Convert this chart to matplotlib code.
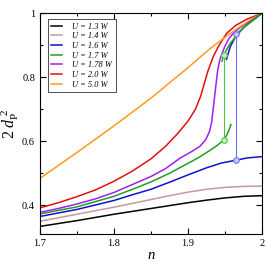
import numpy as np
import matplotlib.pyplot as plt

plt.rcParams['font.family'] = ['Liberation Serif', 'DejaVu Serif']
plt.rcParams['mathtext.fontset'] = 'custom'
plt.rcParams['mathtext.rm'] = 'Liberation Serif'
plt.rcParams['mathtext.it'] = 'Liberation Serif:italic'

# kurvor: (n, 2 d_P^2)
n_13 = [1.70, 1.75, 1.80, 1.85, 1.90, 1.925, 1.95, 1.975, 2.00]
d_13 = [0.334, 0.352, 0.372, 0.390, 0.408, 0.416, 0.423, 0.428, 0.430]

n_14 = [1.70, 1.75, 1.80, 1.85, 1.875, 1.90, 1.925, 1.95, 1.975, 2.00]
d_14 = [0.350, 0.372, 0.394, 0.418, 0.430, 0.441, 0.450, 0.456, 0.459, 0.460]

n_16 = [1.70, 1.75, 1.80, 1.825, 1.85, 1.875, 1.90, 1.925, 1.945, 1.965, 1.98, 2.00]
d_16 = [0.365, 0.387, 0.415, 0.433, 0.450, 0.472, 0.495, 0.517, 0.532, 0.541, 0.548, 0.552]
n_16_up = [1.952, 1.957, 1.966, 1.98, 2.00]
d_16_up = [0.856, 0.895, 0.935, 0.965, 1.00]

n_17 = [1.70, 1.75, 1.80, 1.825, 1.85, 1.875, 1.90, 1.915, 1.93, 1.94, 1.948, 1.952, 1.955, 1.958]
d_17 = [0.373, 0.395, 0.428, 0.450, 0.473, 0.500, 0.531, 0.550, 0.572, 0.588, 0.604, 0.618, 0.632, 0.652]
n_17_up = [1.946, 1.948, 1.957, 1.975, 2.00]
d_17_up = [0.850, 0.869, 0.906, 0.955, 1.00]

n_178 = [1.70, 1.725, 1.75, 1.775, 1.80, 1.825, 1.85, 1.87, 1.889, 1.905, 1.916, 1.924, 1.929,
         1.932, 1.934, 1.936, 1.938, 1.940, 1.943, 1.9495, 1.955, 1.961, 1.97, 1.985, 2.00]
d_178 = [0.378, 0.390, 0.404, 0.420, 0.440, 0.465, 0.490, 0.515, 0.547, 0.568, 0.584, 0.605, 0.630,
         0.660, 0.700, 0.740, 0.780, 0.820, 0.855, 0.895, 0.920, 0.937, 0.955, 0.978, 1.00]

n_20 = [1.70, 1.725, 1.75, 1.775, 1.80, 1.825, 1.85, 1.87, 1.886, 1.90, 1.91, 1.917, 1.922,
        1.927, 1.934, 1.942, 1.952, 1.965, 1.98, 2.00]
d_20 = [0.392, 0.408, 0.427, 0.448, 0.475, 0.507, 0.545, 0.585, 0.624, 0.663, 0.700, 0.740, 0.780,
        0.820, 0.864, 0.900, 0.937, 0.963, 0.982, 1.00]

n_50 = [1.70, 1.75, 1.80, 1.85, 1.90, 1.93, 1.95, 1.97, 1.985, 2.00]
d_50 = [0.484, 0.565, 0.648, 0.735, 0.830, 0.890, 0.925, 0.958, 0.980, 1.00]

# hopp (n, nedre, övre)
hopp_16 = (1.965, 0.541, 0.935)
hopp_17 = (1.948, 0.604, 0.869)

fig = plt.figure(figsize=(2.66, 2.66), dpi=100)
ax = fig.add_axes([0.150, 0.120, 0.835, 0.830])

lw = 1.1
ax.plot(n_13, d_13, color='black', lw=lw, label='U = 1.3 W')
ax.plot(n_14, d_14, color='#c49a9a', lw=lw, label='U = 1.4 W')
ax.plot(n_16, d_16, color='#1010d0', lw=lw, label='U = 1.6 W')
ax.plot(n_17, d_17, color='#20a020', lw=lw, label='U = 1.7 W')
ax.plot(n_178, d_178, color='#a020f0', lw=lw, label='U = 1.78 W')
ax.plot(n_20, d_20, color='#e01010', lw=lw, label='U = 2.0 W')
ax.plot(n_50, d_50, color='#ff9a20', lw=lw, label='U = 5.0 W')
ax.plot(n_16_up, d_16_up, color='#1010d0', lw=lw)
ax.plot(n_17_up, d_17_up, color='#20a020', lw=lw)

# vertikala hopp med öppna cirklar
ax.plot([hopp_16[0]] * 2, hopp_16[1:], color='#7070ff', lw=0.8, marker='o', ms=4,
        mfc='#c8c8ff', mec='#7070ff', mew=0.8)
ax.plot([hopp_17[0]] * 2, hopp_17[1:], color='#50c050', lw=0.8, marker='o', ms=4,
        mfc='#c8f0c8', mec='#50c050', mew=0.8)

ax.set_xlim(1.7, 2.0)
ax.set_ylim(0.31, 1.0)
ax.set_xticks([1.7, 1.8, 1.9, 2.0])
ax.set_xticklabels(['1.7', '1.8', '1.9', '2'])
ax.set_xticks([1.75, 1.85, 1.95], minor=True)
ax.set_yticks([0.4, 0.6, 0.8, 1.0])
ax.set_yticklabels(['0.4', '0.6', '0.8', '1'])
ax.set_yticks([0.5, 0.7, 0.9], minor=True)
ax.tick_params(which='both', direction='in', top=True, right=True, labelsize=7.5, width=0.8)
ax.tick_params(which='major', length=4)
ax.tick_params(which='minor', length=2)
for s in ax.spines.values():
    s.set_linewidth(0.8)

ax.set_xlabel(r'$n$', fontsize=10.5, labelpad=1)
ax.set_ylabel(r'$2\ d_{\rm P}^{\ 2}$', fontsize=11.5, labelpad=1)

leg = ax.legend(loc='upper left', bbox_to_anchor=(0.035, 0.975),
                prop={'style': 'italic', 'size': 6}, frameon=True, fancybox=False,
                edgecolor='black', handlelength=1.3, handletextpad=1.2, borderpad=0.45,
                labelspacing=0.2, borderaxespad=0)
leg.get_frame().set_linewidth(0.6)

fig.savefig('out.png', dpi=100)
